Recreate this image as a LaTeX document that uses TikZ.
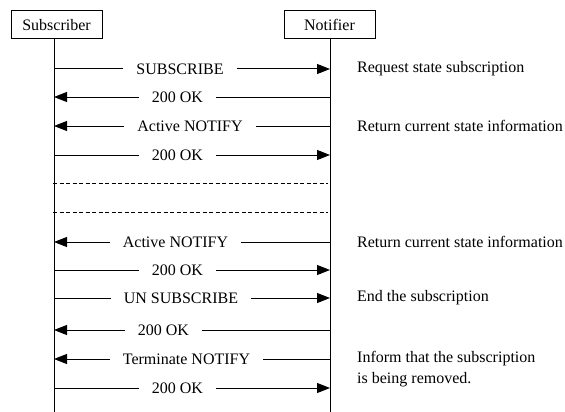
\documentclass[tikz,border=0pt]{standalone}
\usepackage{fontspec}
\setmainfont{Liberation Serif}
\usetikzlibrary{arrows.meta}
\begin{document}
\begin{tikzpicture}[x=1pt,y=-1pt,
  every node/.style={font=\fontsize{16}{21}\selectfont},
  actor/.style={draw,line width=1pt,minimum width=91pt,minimum height=28pt,inner sep=0pt},
  life/.style={line width=1pt},
  msg/.style={line width=1pt,-{Triangle[length=13pt,width=10pt]}},
  sep/.style={line width=1pt,dash pattern=on 4pt off 2.5pt},
  lbl/.style={fill=white,inner xsep=13pt,inner ysep=1pt},
  note/.style={anchor=west,inner sep=0pt,align=left}]
\useasboundingbox (0,0) rectangle (565,412);
% actors
\node[actor] (sub) at (56.5,25) {Subscriber};
\node[actor] (ntf) at (329.5,25) {Notifier};
\coordinate (sbot) at (54,412);
\coordinate (nbot) at (330,412);
\draw[life] (54,39) coordinate (stop) -- (sbot);
\draw[life] (330,39) coordinate (ntop) -- (nbot);
% lifeline points
\foreach \i/\y in {1/69,2/97,3/126,4/155,5/242,6/270,7/298,8/330,9/359,10/388}{
  \coordinate (s\i) at (54,\y);
  \coordinate (n\i) at (330,\y);
}
% messages
\draw[msg] (s1) -- (n1);
\node[lbl] (m1) at (180,69) {SUBSCRIBE};
\draw[msg] (n2) -- (s2);
\node[lbl] (m2) at (177.5,97) {200 OK};
\draw[msg] (n3) -- (s3);
\node[lbl] (m3) at (190,126) {Active NOTIFY};
\draw[msg] (s4) -- (n4);
\node[lbl] (m4) at (177.5,155) {200 OK};
% separators
\coordinate (d1a) at (53,183); \coordinate (d1b) at (328,183);
\coordinate (d2a) at (53,212); \coordinate (d2b) at (328,212);
\draw[sep] (d1a) -- (d1b);
\draw[sep] (d2a) -- (d2b);
\draw[msg] (n5) -- (s5);
\node[lbl] (m5) at (175.5,242) {Active NOTIFY};
\draw[msg] (s6) -- (n6);
\node[lbl] (m6) at (177.5,270) {200 OK};
\draw[msg] (s7) -- (n7);
\node[lbl] (m7) at (181,298) {UN SUBSCRIBE};
\draw[msg] (n8) -- (s8);
\node[lbl] (m8) at (163.5,330) {200 OK};
\draw[msg] (n9) -- (s9);
\node[lbl] (m9) at (186.5,359) {Terminate NOTIFY};
\draw[msg] (s10) -- (n10);
\node[lbl] (m10) at (177.5,388) {200 OK};
% notes
\node[note] (t1) at (357,69) {Request state subscription};
\node[note] (t3) at (357,126) {Return current state information};
\node[note] (t5) at (357,242) {Return current state information};
\node[note] (t7) at (357,298) {End the subscription};
\node[note,anchor=north west] (t9) at (357,351) {Inform that the subscription\\is being removed.};
\end{tikzpicture}
\end{document}
